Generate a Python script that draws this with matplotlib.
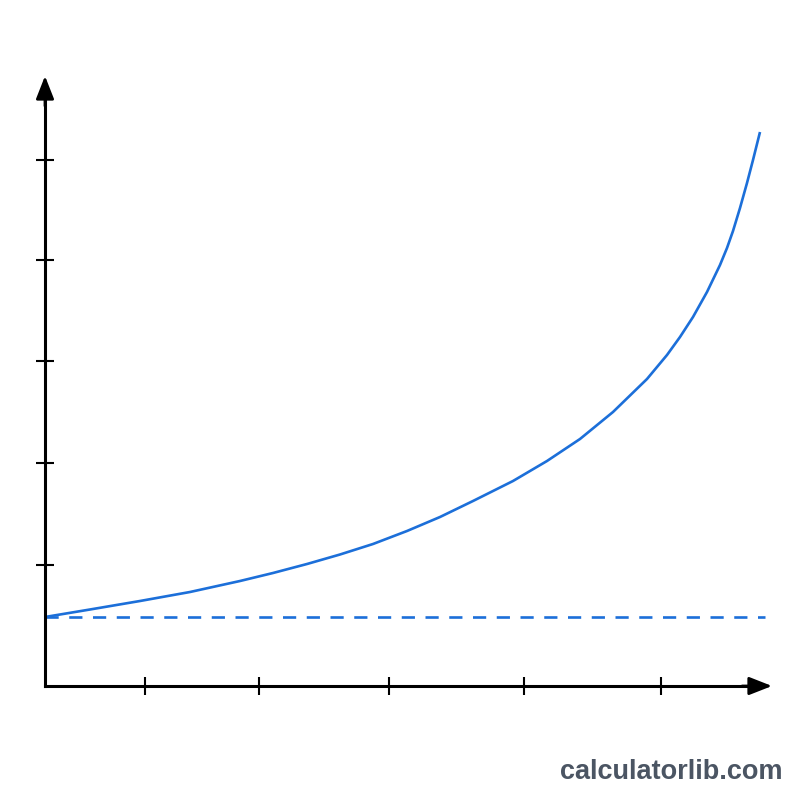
import numpy as np
import matplotlib.pyplot as plt

# curve (x, y in axis units)
curve_x = [0.0, 0.45, 0.95, 1.45, 1.95, 2.28, 2.62, 2.95, 3.28, 3.62, 3.95, 4.28, 4.68,
           5.02, 5.35, 5.68, 6.02, 6.22, 6.35, 6.48, 6.62, 6.75, 6.82, 6.88, 6.95,
           7.02, 7.08, 7.15]
curve_y = [0.69, 0.765, 0.85, 0.94, 1.05, 1.13, 1.22, 1.315, 1.42, 1.55, 1.69, 1.85, 2.05,
           2.25, 2.47, 2.74, 3.07, 3.31, 3.49, 3.69, 3.94, 4.21, 4.38, 4.55, 4.78,
           5.03, 5.26, 5.54]
asymptote_y = 0.69
dash_x = [0.0, 7.2]
xticks = [1.00, 2.14, 3.44, 4.79, 6.16]
yticks = [1.21, 2.23, 3.25, 4.26, 5.26]
x_tip = 7.27
y_tip = 6.10

blue = "#1c6fd9"

fig = plt.figure(figsize=(8, 8), dpi=100)
ax = fig.add_axes([0, 0, 1, 1])
ax.set_xlim(-0.45, 7.55)
ax.set_ylim(-1.14, 6.86)

ax.plot(curve_x, curve_y, color=blue, lw=1.9, solid_joinstyle="round", solid_capstyle="butt")
ax.plot(dash_x, [asymptote_y, asymptote_y], color=blue, lw=1.9, dashes=(5, 4))

for s in ["top", "right"]:
    ax.spines[s].set_visible(False)
ax.spines["left"].set_position(("data", 0))
ax.spines["bottom"].set_position(("data", 0))
ax.spines["left"].set_bounds(0, y_tip - 0.2)
ax.spines["bottom"].set_bounds(0, x_tip - 0.2)
ax.spines["left"].set_linewidth(2.2)
ax.spines["bottom"].set_linewidth(2.2)

ax.set_xticks(xticks)
ax.set_yticks(yticks)
ax.set_xticklabels([])
ax.set_yticklabels([])
ax.tick_params(direction="inout", length=13, width=1.5, color="black")

# arrow heads
head = "-|>,head_length=1.4,head_width=0.55"
ax.annotate("", xy=(x_tip, 0), xytext=(x_tip - 0.3, 0),
            arrowprops=dict(arrowstyle=head, color="black", lw=2, shrinkA=0, shrinkB=0))
ax.annotate("", xy=(0, y_tip), xytext=(0, y_tip - 0.3),
            arrowprops=dict(arrowstyle=head, color="black", lw=2, shrinkA=0, shrinkB=0))

fig.text(0.839, 0.035, "calculatorlib.com", ha="center", va="center",
         fontsize=19.5, fontweight="bold", color="#4b5563", family="Liberation Sans")

fig.savefig("out.png", dpi=100, facecolor="white")
